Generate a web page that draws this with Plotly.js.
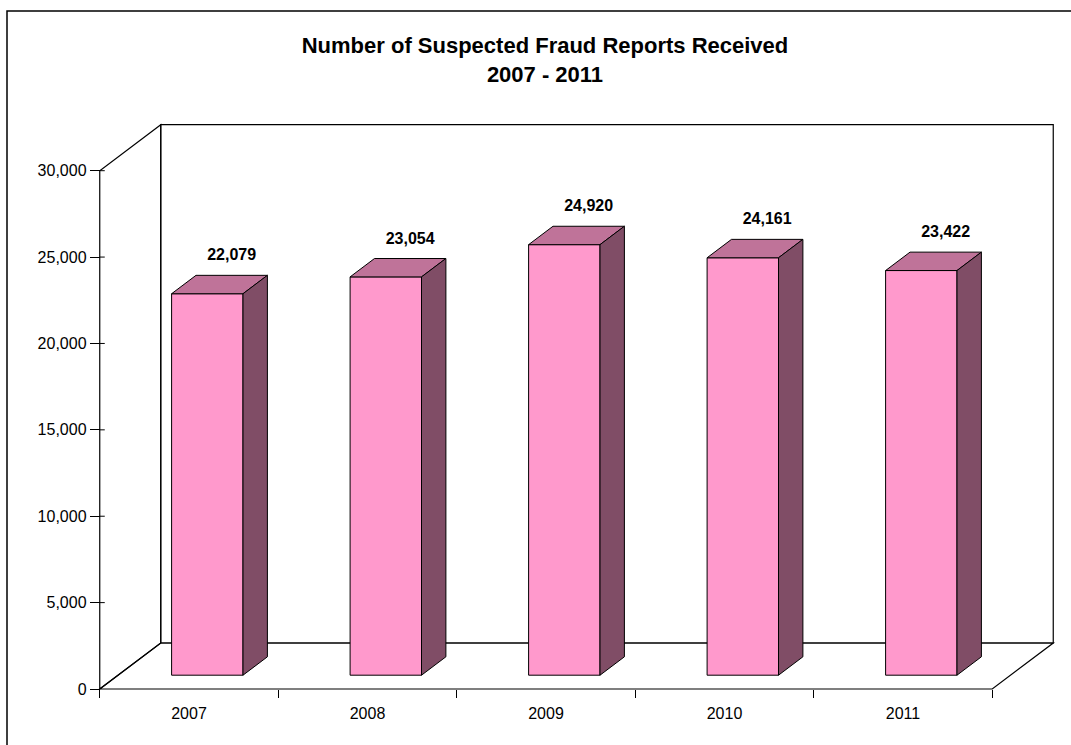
<!DOCTYPE html>
<html>
<head>
<meta charset="utf-8">
<script src="https://cdn.plot.ly/plotly-3.0.1.min.js"></script>
<style>
  html, body { margin: 0; padding: 0; background: #fff; }
  #chart { width: 1071px; height: 745px; }
</style>
</head>
<body>
<div id="chart"></div>
<script>
// ---- data ----
const years = ['2007', '2008', '2009', '2010', '2011'];
const reports = [22079, 23054, 24920, 24161, 23422];
const yTickVals = [0, 5000, 10000, 15000, 20000, 25000, 30000];
const titleText = 'Number of Suspected Fraud Reports Received<br>2007 - 2011';

// ---- layout geometry (pixels) ----
const W = 1071, H = 745;
const M = { l: 80, r: 5, t: 110, b: 45 };
const plotW = W - M.l - M.r, plotH = H - M.t - M.b;
const OX = 99.75, OY = 689;          // pixel of front origin
const CAT = 178.5;                   // px per category
const VPX = 0.017277;                // px per value unit
const DPX = 61, DPY = 46;            // full depth offset in px
const DZX = DPX / CAT, DZY = DPY / VPX;
const xRange = [(M.l - OX) / CAT, (W - M.r - OX) / CAT];
const yRange = [(OY - (H - M.b)) / VPX, (OY - M.t) / VPX];
const BAR_X0 = 0.3, BAR_X1 = 0.7, BAR_Z0 = 0.3, BAR_Z1 = 0.7;
const LABEL_OFF = 19 / VPX;

const FONT = 'Liberation Sans, Arial, Helvetica, sans-serif';
const FRONT = '#FF99CC', TOP = '#BF7399', SIDE = '#804D66';

function P(x, y, z) { return [x + z * DZX, y + z * DZY]; }
function pathOf(pts) { return 'M' + pts.map(p => p[0] + ',' + p[1]).join('L') + 'Z'; }

const nCat = years.length;
const yTop = yTickVals[yTickVals.length - 1];

// walls (below traces)
const wallLine = { color: '#000', width: 1.2 };
const shapes = [
  [P(0, 0, 1), P(nCat, 0, 1), P(nCat, yTop, 1), P(0, yTop, 1)],
  [P(0, 0, 0), P(0, yTop, 0), P(0, yTop, 1), P(0, 0, 1)],
  [P(0, 0, 0), P(nCat, 0, 0), P(nCat, 0, 1), P(0, 0, 1)]
].map(pts => ({
  type: 'path', xref: 'x', yref: 'y', layer: 'below',
  path: pathOf(pts), line: wallLine, fillcolor: 'rgba(255,255,255,0)'
}));

// outer border of the chart
const px2paperX = px => (px - M.l) / plotW;
const py2paperY = py => (H - M.b - py) / plotH;
shapes.push({
  type: 'rect', xref: 'paper', yref: 'paper',
  x0: px2paperX(7), x1: px2paperX(W + 20),
  y0: py2paperY(H + 20), y1: py2paperY(11),
  line: { color: '#000', width: 1.5 }, fillcolor: 'rgba(0,0,0,0)', layer: 'below'
});

const traces = [];

// front faces as real bars
traces.push({
  type: 'bar',
  x: years.map((_, i) => i + (BAR_X0 + BAR_X1) / 2 + BAR_Z0 * DZX),
  y: reports,
  base: BAR_Z0 * DZY,
  width: BAR_X1 - BAR_X0,
  marker: { color: FRONT, line: { color: '#000', width: 1 } },
  hovertext: years, hoverinfo: 'text',
  xaxis: 'x', yaxis: 'y', showlegend: false
});

// top and side faces
reports.forEach((v, i) => {
  const x0 = i + BAR_X0, x1 = i + BAR_X1;
  const top = [P(x0, v, BAR_Z0), P(x1, v, BAR_Z0), P(x1, v, BAR_Z1), P(x0, v, BAR_Z1), P(x0, v, BAR_Z0)];
  const side = [P(x1, 0, BAR_Z0), P(x1, 0, BAR_Z1), P(x1, v, BAR_Z1), P(x1, v, BAR_Z0), P(x1, 0, BAR_Z0)];
  [[top, TOP], [side, SIDE]].forEach(([pts, col]) => {
    traces.push({
      type: 'scatter', mode: 'lines', fill: 'toself', fillcolor: col,
      x: pts.map(p => p[0]), y: pts.map(p => p[1]),
      line: { color: '#000', width: 1 }, hoverinfo: 'skip', showlegend: false
    });
  });
});

// small inner parts of y ticks
const tx = [], ty = [];
yTickVals.filter(v => v > 0).forEach(v => { tx.push(0, 5 / CAT, null); ty.push(v, v, null); });
traces.push({
  type: 'scatter', mode: 'lines', x: tx, y: ty,
  line: { color: '#000', width: 1 }, hoverinfo: 'skip', showlegend: false
});

// data labels
traces.push({
  type: 'scatter', mode: 'text',
  x: reports.map((_, i) => i + (BAR_X0 + BAR_X1) / 2 + BAR_Z1 * DZX),
  y: reports.map(v => v + BAR_Z1 * DZY + LABEL_OFF),
  text: reports.map(v => v.toLocaleString('en-US')),
  textposition: 'middle center',
  textfont: { family: FONT, size: 16, color: '#000', weight: 'bold' },
  hoverinfo: 'skip', showlegend: false, cliponaxis: false
});

const axisPosX = (OX - M.l) / plotW;
const axisPosY = (H - M.b - OY) / plotH;

const layout = {
  width: W, height: H,
  margin: M,
  paper_bgcolor: '#fff', plot_bgcolor: 'rgba(0,0,0,0)',
  font: { family: FONT, size: 16, color: '#000' },
  showlegend: false,
  title: {
    text: titleText,
    font: { family: FONT, size: 22, color: '#000', weight: 'bold' },
    x: 545 / W, xref: 'container', xanchor: 'center',
    y: 1 - 53 / H, yref: 'container', yanchor: 'top'
  },
  xaxis: {
    type: 'linear', range: xRange, anchor: 'free', position: axisPosY,
    tickmode: 'array', tickvals: years.map((_, i) => i).concat([nCat]),
    ticks: 'outside', ticklen: 8, tickwidth: 1, tickcolor: '#000',
    showticklabels: false, showgrid: false, zeroline: false, showline: false,
    fixedrange: true
  },
  xaxis2: {
    type: 'linear', range: xRange, overlaying: 'x', anchor: 'free', position: axisPosY,
    side: 'bottom',
    tickmode: 'array', tickvals: years.map((_, i) => i + 0.5), ticktext: years,
    ticks: 'outside', ticklen: 10, tickcolor: 'rgba(0,0,0,0)',
    tickfont: { family: FONT, size: 16, color: '#000' },
    showgrid: false, zeroline: false, showline: false, fixedrange: true
  },
  yaxis: {
    type: 'linear', range: yRange, anchor: 'free', position: axisPosX,
    tickmode: 'array', tickvals: yTickVals,
    ticktext: yTickVals.map(v => v.toLocaleString('en-US')),
    ticks: 'outside', ticklen: 10, tickwidth: 1, tickcolor: '#000',
    tickfont: { family: FONT, size: 16, color: '#000' },
    showgrid: false, zeroline: false, showline: false, fixedrange: true
  },
  shapes: shapes,
  bargap: 0
};

// a dummy invisible trace on xaxis2 so that the overlay axis is drawn
traces.push({
  type: 'scatter', mode: 'markers', x: [xRange[0]], y: [yRange[0]],
  xaxis: 'x2', yaxis: 'y', marker: { opacity: 0 }, hoverinfo: 'skip', showlegend: false
});

Plotly.newPlot('chart', traces, layout, { displayModeBar: false, staticPlot: true });
</script>
</body>
</html>
